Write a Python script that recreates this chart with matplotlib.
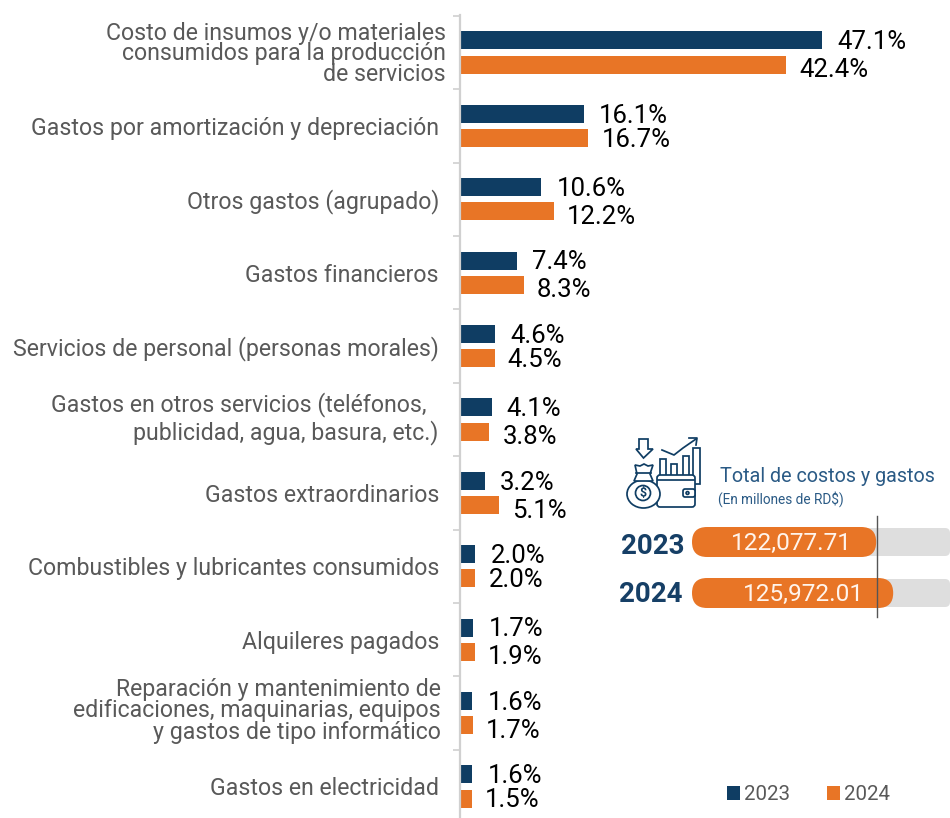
import matplotlib
matplotlib.use("Agg")
import matplotlib.pyplot as plt
import numpy as np
from matplotlib.patches import FancyBboxPatch, Rectangle, Circle, Ellipse, Polygon
from matplotlib.transforms import ScaledTranslation

categories = [
    "Costo de insumos y/o materiales\nconsumidos para la producción\nde servicios",
    "Gastos por amortización y depreciación",
    "Otros gastos (agrupado)",
    "Gastos financieros",
    "Servicios de personal (personas morales)",
    "Gastos en otros servicios (teléfonos,  \npublicidad, agua, basura, etc.)",
    "Gastos extraordinarios",
    "Combustibles y lubricantes consumidos",
    "Alquileres pagados",
    "Reparación y mantenimiento de\nedificaciones, maquinarias, equipos\ny gastos de tipo informático",
    "Gastos en electricidad",
]
values_2023 = [47.1, 16.1, 10.6, 7.4, 4.6, 4.1, 3.2, 2.0, 1.7, 1.6, 1.6]
values_2024 = [42.4, 16.7, 12.2, 8.3, 4.5, 3.8, 5.1, 2.0, 1.9, 1.7, 1.5]
years = ["2023", "2024"]
totals = [122077.71, 125972.01]
total_labels = ["122,077.71", "125,972.01"]

NAVY = "#0F3D63"
ORANGE = "#E87526"
GRAY_TXT = "#595959"
AXIS = "#D0D0D0"
W, H = 950, 818
FONT = "Roboto"
plt.rcParams["font.family"] = [FONT, "DejaVu Sans"]

fig = plt.figure(figsize=(W / 100, H / 100), dpi=100)
ax = fig.add_axes([460 / W, 0, (W - 460) / W, (H - 15) / H])

PX_PER_PCT = 7.686
ax.set_xlim(0, (W - 460) / PX_PER_PCT)
ax.set_ylim(10.43, -0.51)

y = np.arange(len(categories))
bar_h = 0.245
off = 0.165
b1 = ax.barh(y - off, values_2023, height=bar_h, color=NAVY, label=years[0])
b2 = ax.barh(y + off, values_2024, height=bar_h, color=ORANGE, label=years[1])

for s in ["top", "right", "bottom"]:
    ax.spines[s].set_visible(False)
ax.spines["left"].set_color(AXIS)
ax.spines["left"].set_linewidth(1.6)
ax.xaxis.set_visible(False)
ax.set_yticks(y)
ax.set_yticklabels(categories, fontsize=16.7, color=GRAY_TXT, linespacing=0.92, ha="right", multialignment="right")
ax.tick_params(axis="y", which="major", length=0, pad=15.2)
ax.set_yticks(np.arange(len(categories)) - 0.5, minor=True)
ax.tick_params(axis="y", which="minor", length=5, width=1.2, color=AXIS)

# small per-label nudges (points) and line spacing
dx_pts = [5, 0, 0, 0, 0, -0.5, 0, 0, 0, 1.5, 0]
dy_pts = [0, 0, 0, 0, 0, 3.6, 0, 0, 0, 2.9, 0]
spacing = [0.86, 1, 1, 1, 1, 1.13, 1, 1, 1, 0.93, 1]
for lab, dx, dy, ls in zip(ax.get_yticklabels(), dx_pts, dy_pts, spacing):
    lab.set_transform(lab.get_transform() + ScaledTranslation(dx / 72, dy / 72, fig.dpi_scale_trans))
    lab.set_linespacing(ls)

orange_dy = [4, 0, 4, 4, 0, 4, 4, 0, 4, 4, 0]
for i, (a, b) in enumerate(zip(values_2023, values_2024)):
    ax.annotate(f"{a:.1f}%", (a, y[i] - off), xytext=(11, -1.4), textcoords="offset points",
                va="center", ha="left", fontsize=18.5, color="black", annotation_clip=False)
    ax.annotate(f"{b:.1f}%", (b, y[i] + off), xytext=(9.5, -1.2 - orange_dy[i] * 0.72), textcoords="offset points",
                va="center", ha="left", fontsize=18.5, color="black", annotation_clip=False)

fig.legend(handles=[b1, b2], labels=years, ncols=2, frameon=False, loc="center left",
           bbox_to_anchor=(708 / W, 1 - 795 / H), fontsize=14.8, labelcolor=GRAY_TXT,
           handlelength=0.65, handleheight=0.65, handletextpad=0.2, columnspacing=1.78)

# Panel drawn in pixel coordinates
p = fig.add_axes([0, 0, 1, 1], facecolor="none")
p.set_xlim(0, W)
p.set_ylim(H, 0)
p.axis("off")

PILL_LEFT = 692
BASE = 79900
UNITS_PER_PX = 229.0
def px(v):
    return PILL_LEFT + (v - BASE) / UNITS_PER_PX

pill_tops = [527, 578]
PILL_H = 30
year_dy = [5, 1.5]
value_dx = [7, 11]
for yr, v, lab, t, ydy, vdx in zip(years, totals, total_labels, pill_tops, year_dy, value_dx):
    p.add_patch(FancyBboxPatch((PILL_LEFT + 12, t + 1), W - PILL_LEFT - 12, PILL_H - 2,
                               boxstyle="round,pad=0,rounding_size=5", fc="#DEDEDE", ec="none", clip_on=True))
    p.add_patch(FancyBboxPatch((PILL_LEFT, t), px(v) - PILL_LEFT, PILL_H,
                               boxstyle="round,pad=0,rounding_size=15", fc=ORANGE, ec="none"))
    p.text(684 if yr == "2023" else 682, t + PILL_H / 2 + ydy, yr, ha="right", va="center", fontsize=20,
           fontweight="bold", color="#163F66")
    p.text((px(v) + PILL_LEFT) / 2 + vdx, t + PILL_H / 2 + 1.5, lab, ha="center", va="center",
           fontsize=17.6, fontweight="normal", color="#FFF4EC")
p.plot([876.5, 876.5], [516, 617], color="#555555", lw=1.0)

TXT = "#2A5A85"
p.text(720, 477, "Total de costos y gastos", ha="left", va="center", fontsize=14.2, fontweight="normal", color=TXT)
p.text(717.5, 499, "(En millones de RD$)", ha="left", va="center", fontsize=9.8, fontweight="normal", color=TXT)

# Icon
lw = 1.25
ic = dict(fc="white", ec=NAVY, lw=lw)
p.add_patch(Polygon([(639, 439), (648, 439), (648, 449), (653, 449), (643.5, 458), (636, 449), (639, 449)], closed=True, **ic))
p.add_patch(Rectangle((659.5, 458.5), 6.5, 17, **ic))
p.add_patch(Rectangle((670.5, 463.5), 6.5, 12, **ic))
p.add_patch(Rectangle((682.5, 456), 6, 19.5, **ic))
p.add_patch(Rectangle((693, 447.5), 7, 36, **ic))
p.plot([662, 674, 683, 696], [450, 455, 448, 439], color=NAVY, lw=lw)
p.plot([689, 697, 696], [438, 438, 445], color=NAVY, lw=lw)
p.add_patch(FancyBboxPatch((657, 475), 38, 32, boxstyle="round,pad=0,rounding_size=3", **ic))
p.plot([657.5, 694], [480, 480], color=NAVY, lw=lw)
p.add_patch(FancyBboxPatch((683, 489), 12, 8, boxstyle="round,pad=0,rounding_size=2", **ic))
p.add_patch(Circle((687.5, 493), 1.4, **ic))
p.add_patch(Ellipse((643.5, 494), 33, 28, **ic))
p.add_patch(Polygon([(635, 465), (640, 466), (644, 464), (648, 466), (653, 465), (650, 474), (653, 481),
                     (634, 481), (637, 474)], closed=True, **ic))
p.plot([636, 651], [473, 473], color=NAVY, lw=lw)
p.add_patch(Circle((643, 493), 7.5, **ic))
p.text(643, 493.5, "$", ha="center", va="center", fontsize=9, color=NAVY, fontweight="bold")

fig.savefig("out.png", dpi=100)
